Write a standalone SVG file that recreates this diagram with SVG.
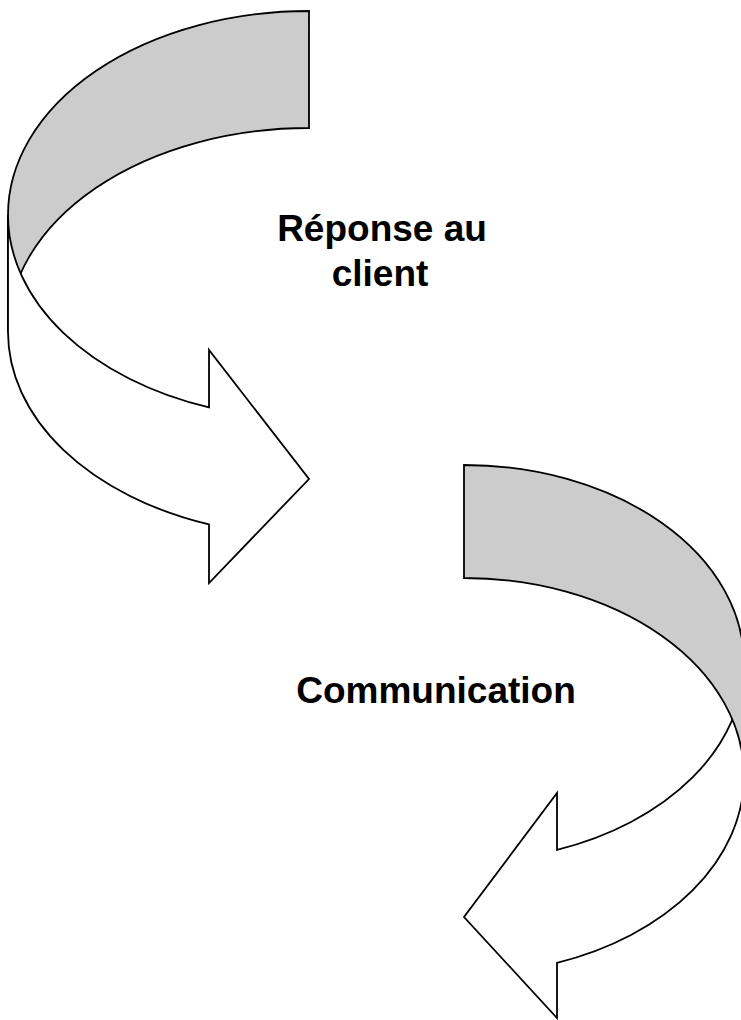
<svg xmlns="http://www.w3.org/2000/svg" width="741" height="1020" viewBox="0 0 741 1020">
  <style>
    .band { stroke: #000000; stroke-width: 1.8; stroke-linejoin: miter; }
    .back { fill: #cccccc; }
    .front { fill: #ffffff; }
    .label { font-family: "Liberation Sans", Arial, sans-serif; font-weight: bold; font-size: 37px; fill: #000000; text-anchor: middle; }
  </style>
  <rect x="0" y="0" width="741" height="1020" fill="#ffffff"/>

  <!-- Curved arrow turning left and down, head pointing right -->
  <g id="arrow-reponse">
    <path class="band back" d="M 309 11 A 301 204 0 0 0 8 215 L 8 332 A 301 204 0 0 1 309 128 Z"/>
    <path class="band front" d="M 8 215 L 8 332 A 301 204 0 0 0 209 524.4 L 209 583 L 309 479 L 209 350 L 209 407.4 A 301 204 0 0 1 8 215 Z"/>
  </g>

  <!-- Curved arrow turning right and down, head pointing left -->
  <g id="arrow-communication">
    <path class="band front" d="M 744 663 L 744 776 A 280 198 0 0 1 557 962.8 L 557 1018 L 464 917 L 557 793 L 557 849.8 A 280 198 0 0 0 744 663 Z"/>
    <path class="band back" d="M 464 465 A 280 198 0 0 1 744 663 L 744 776 A 280 198 0 0 0 464 578 Z"/>
  </g>

  <g id="label-reponse">
    <text class="label" x="382" y="241">Réponse au</text>
    <text class="label" x="380" y="286">client</text>
  </g>
  <g id="label-communication">
    <text class="label" x="436" y="703">Communication</text>
  </g>
</svg>
